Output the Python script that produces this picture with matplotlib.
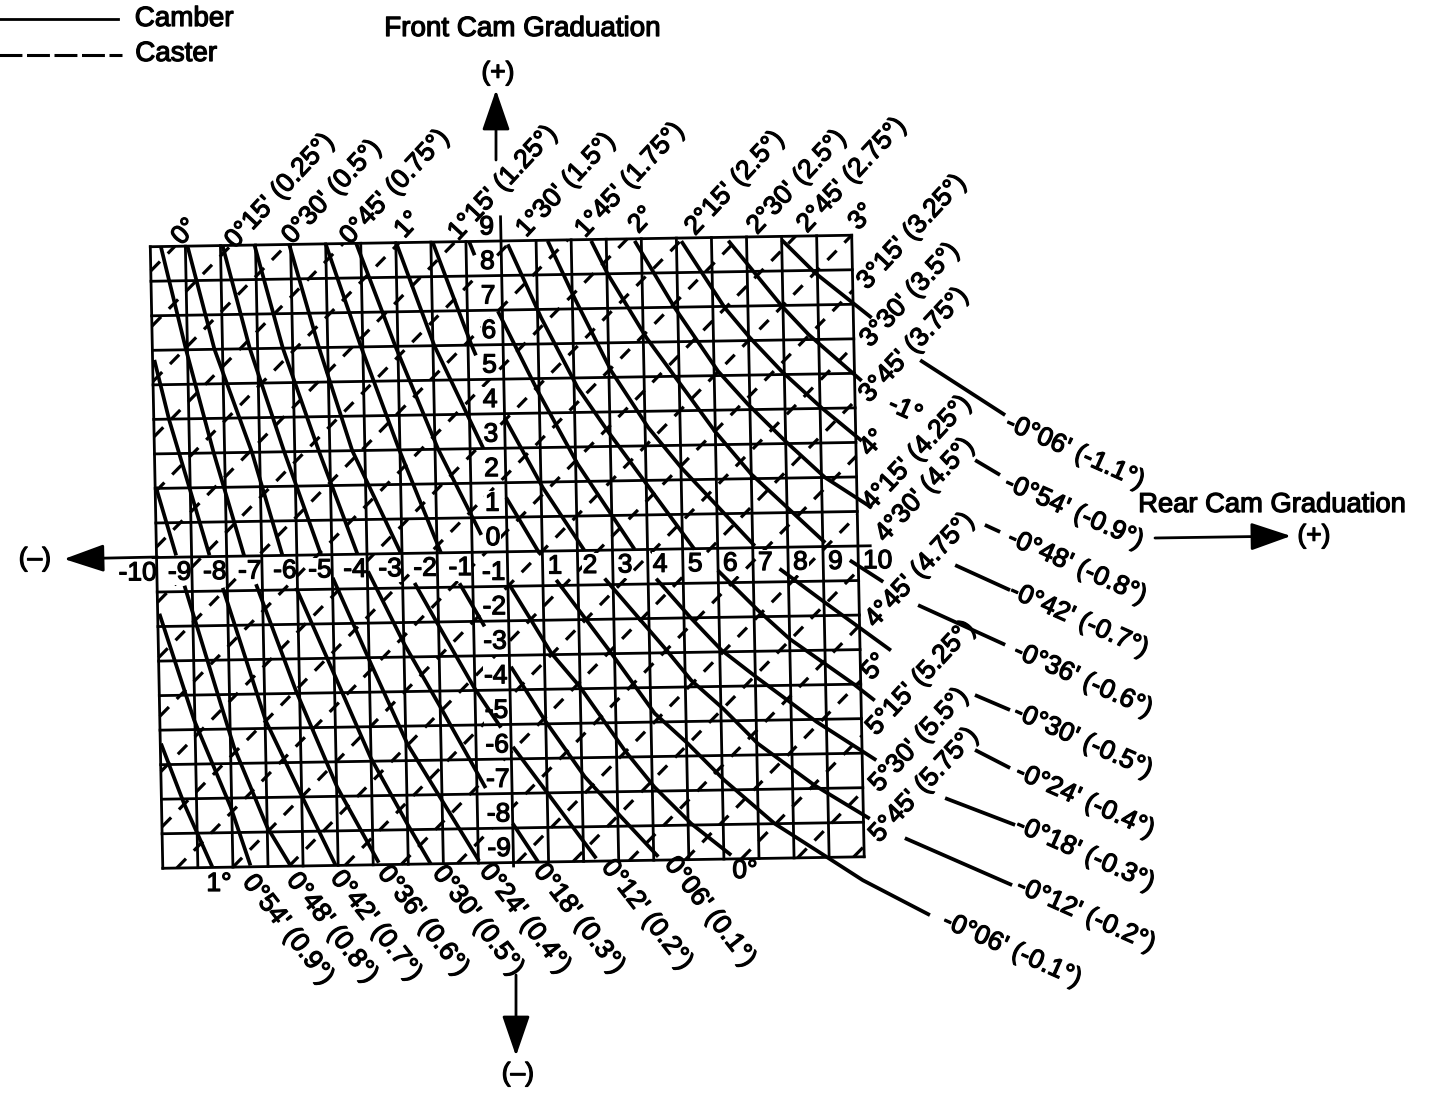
import matplotlib
matplotlib.use("Agg")
import matplotlib.pyplot as plt
import matplotlib.patheffects as pe
from matplotlib.transforms import Affine2D

plt.rcParams["font.family"] = ["Liberation Sans", "DejaVu Sans"]

# Cam graduations on the two axes
rear_cam = list(range(-10, 11))
front_cam = list(range(-9, 10))

# Caster lines: rear minus front cam value along each dashed line
caster_offsets = [-18.3, -16.7, -15.1, -13.5, -11.9, -10.3, -8.7, -7.1, -5.4, -3.8, -2.2, -0.6,
                  1.0, 2.6, 4.2, 5.8, 7.4, 9.1, 10.7, 12.3, 13.9, 15.5, 17.1, 18.7]

# Camber lines: (rear, front) points, broken where the number rows cut them
camber_p100 = [[(-9.98, -5.39), (-9.36, -7.13), (-8.59, -8.98)]]
camber_p090 = [[(-9.95, -1.63), (-9.02, -4.73), (-8.03, -7.26), (-7.5, -8.96)]]
camber_p080 = [[(-9.98, 2.05), (-9.44, 0.05)],
               [(-9.22, -0.83), (-7.9, -5.53), (-7.0, -7.86), (-6.36, -8.98)]]
camber_p070 = [[(-9.95, 5.72), (-9.56, 3.97), (-9.03, 2.03), (-8.49, 0.04)],
               [(-8.13, -0.91), (-6.98, -4.78), (-5.98, -7.01), (-5.07, -9.0)]]
camber_p060 = [[(-9.7, 9.0), (-9.04, 6.0), (-8.31, 3.0), (-7.5, 0.0)],
               [(-7.18, -0.82), (-6.1, -3.93), (-4.98, -6.74), (-3.84, -8.94)]]
camber_p050 = [[(-8.94, 9.0), (-8.23, 6.0), (-7.22, 3.0), (-6.41, 0.0)],
               [(-6.04, -0.94), (-5.0, -3.47), (-4.01, -5.9), (-3.0, -7.84), (-2.36, -9.0)]]
camber_p040 = [[(-7.94, 9.0), (-7.22, 6.0), (-6.3, 3.0), (-5.31, 0.0)],
               [(-4.99, -0.67), (-3.94, -3.2), (-2.95, -5.53), (-1.99, -7.19), (-0.98, -8.94)]]
camber_p030 = [[(-7.03, 9.0), (-6.28, 6.0), (-5.31, 3.0), (-4.27, 0.0)],
               [(-3.98, -0.5), (-2.98, -2.64), (-1.98, -4.49), (-0.75, -6.83)],
               [(0.0, -7.87), (0.7, -8.99)]]
camber_p020 = [[(-6.04, 9.0), (-5.25, 6.0), (-4.36, 3.0), (-3.03, 0.0)],
               [(-2.66, -0.86), (-2.07, -1.97), (-1.02, -3.92), (-0.28, -5.09)],
               [(0.05, -5.65), (1.02, -7.02), (2.36, -8.92)]]
camber_p010 = [[(-5.0, 9.0), (-4.05, 6.0), (-3.02, 3.0), (-1.89, 0.0)],
               [(-1.38, -0.89), (-0.69, -2.15)],
               [(0.04, -3.33), (0.97, -4.89), (2.08, -6.55), (3.05, -7.68), (4.13, -8.9)]]
camber_zero = [[(-4.13, 9.0), (-3.07, 6.0), (-1.91, 3.0), (-0.73, 0.5)],
               [(0.05, -0.97), (1.2, -2.96), (1.99, -3.94), (3.23, -5.8), (4.06, -6.88),
                (5.09, -7.96), (6.21, -8.89)]]
camber_m01 = [[(-2.99, 9.0), (-1.96, 6.0), (-0.62, 3.0)],
              [(0.0, 1.57), (0.91, -0.05)],
              [(1.38, -0.84), (2.91, -2.99), (4.11, -4.75), (5.04, -5.64), (6.06, -6.72),
               (7.47, -8.0), (8.64, -8.79), (9.95, -9.68), (11.84, -10.72)]]
camber_m02 = [[(-1.95, 9.0), (-0.9, 6.0), (-0.78, 5.7)],
              [(0.0, 3.88), (1.05, 1.84), (2.2, 0.0)],
              [(2.76, -0.82), (4.48, -2.92), (5.17, -3.81), (6.06, -4.64), (7.03, -5.67),
               (8.63, -6.91), (10.18, -7.9)],
              [(11.17, -8.48), (14.2, -9.89)]]
camber_m03 = [[(-0.91, 9.0), (-0.76, 8.6)],
              [(-0.13, 6.97), (0.96, 4.64), (2.06, 2.5), (3.63, 0.01)],
              [(4.23, -0.85), (5.21, -2.02), (6.05, -2.95), (7.02, -3.74), (8.72, -5.07),
               (10.4, -6.21)],
              [(12.34, -7.34), (14.32, -8.15)]]
camber_m04 = [[(0.19, 8.9), (1.1, 6.76), (2.1, 4.72), (2.93, 3.45), (3.95, 1.98), (5.34, -0.02)],
              [(5.99, -0.64), (7.11, -1.81), (7.99, -2.65), (9.78, -3.98), (10.39, -4.48)],
              [(13.22, -5.96), (14.21, -6.5)]]
camber_m05 = [[(1.33, 8.98), (2.06, 7.32), (3.07, 5.18), (4.09, 3.53), (5.01, 2.35), (7.06, 0.05)],
              [(7.75, -0.62), (9.0, -1.6), (10.88, -3.04)],
              [(13.25, -4.37), (14.24, -4.82)]]
camber_m06 = [[(2.57, 8.96), (3.03, 7.98), (4.09, 6.13), (4.97, 4.86), (5.98, 3.4), (7.0, 2.13),
               (9.07, 0.11)],
              [(9.76, -0.41), (10.7, -1.05)],
              [(11.68, -1.74), (14.14, -2.93)]]
camber_m07 = [[(3.81, 8.94), (4.91, 6.99), (6.11, 5.13), (6.95, 4.15), (7.98, 3.08), (9.1, 2.0),
               (10.42, 1.1)],
              [(12.76, -0.6), (14.31, -1.35)]]
camber_m08 = [[(5.14, 8.91), (6.34, 6.96), (7.04, 6.08), (7.92, 5.1), (9.04, 4.02), (10.17, 3.04)],
              [(13.63, 0.55), (14.06, 0.34)]]
camber_m09 = [[(6.48, 8.9), (7.96, 6.99), (8.71, 6.15), (10.2, 4.78)],
              [(13.39, 2.43), (14.09, 1.99)]]
camber_m11 = [[(8.0, 8.9), (8.93, 7.93), (10.52, 6.6)],
              [(11.88, 5.35), (14.27, 3.72)]]

camber_lines = [camber_p100, camber_p090, camber_p080, camber_p070, camber_p060, camber_p050,
                camber_p040, camber_p030, camber_p020, camber_p010, camber_zero, camber_m01,
                camber_m02, camber_m03, camber_m04, camber_m05, camber_m06, camber_m07,
                camber_m08, camber_m09, camber_m11]

caster_labels = ["0°", "0°15' (0.25°)", "0°30' (0.5°)", "0°45' (0.75°)", "1°", "1°15' (1.25°)",
                 "1°30' (1.5°)", "1°45' (1.75°)", "2°", "2°15' (2.5°)", "2°30' (2.5°)",
                 "2°45' (2.75°)", "3°", "3°15' (3.25°)", "3°30' (3.5°)", "3°45' (3.75°)", "4°",
                 "4°15' (4.25°)", "4°30' (4.5°)", "4°45' (4.75°)", "5°", "5°15' (5.25°)",
                 "5°30' (5.5°)", "5°45' (5.75°)"]
bottom_labels = ["1°", "0°54' (0.9°)", "0°48' (0.8°)", "0°42' (0.7°)", "0°36' (0.6°)",
                 "0°30' (0.5°)", "0°24' (0.4°)", "0°18' (0.3°)", "0°12' (0.2°)", "0°06' (0.1°)",
                 "0°"]
right_labels = ["-0°06' (-1.1°)", "-1°", "-0°54' (-0.9°)", "-0°48' (-0.8°)", "-0°42' (-0.7°)",
                "-0°36' (-0.6°)", "-0°30' (-0.5°)", "-0°24' (-0.4°)", "-0°18' (-0.3°)",
                "-0°12' (-0.2°)", "-0°06' (-0.1°)"]

# where those labels sit on the page, in pixels
caster_label_xy = [(185, 232), (280, 191), (332, 192), (395, 187), (408, 225), (503, 183),
                   (566, 185), (630, 180), (642, 220), (735, 183), (797, 182), (852, 175),
                   (862, 217), (912, 232), (910, 295), (914, 345), (873, 443), (917, 453),
                   (925, 490), (920, 570), (875, 667), (921, 678), (919, 740), (924, 785)]
bottom_label_xy = [(219, 884), (288, 930), (332, 928), (376, 926), (423, 921), (478, 921),
                   (525, 919), (579, 919), (647, 915), (710, 912), (745, 871)]
right_label_xy = [(1075, 452), (905, 410), (1074, 512), (1077, 567), (1079, 620), (1083, 680),
                  (1083, 741), (1085, 801), (1085, 854), (1086, 915), (1012, 950)]

fig = plt.figure(figsize=(14.4, 10.96), dpi=100)
ax = fig.add_axes([0, 0, 1, 1])
ax.set_xlim(0, 1440)
ax.set_ylim(1096, 0)
ax.axis("off")

# The printed grid is slightly skewed on the page
cam = Affine2D.from_values(35.07, -0.575, -0.694, -34.53, 507.25, 551.75) + ax.transData

heavy = [pe.withStroke(linewidth=0.9, foreground="black")]
FS = 19


def label(x, y, s, rot=0, size=FS, **kw):
    return ax.text(x, y, s, rotation=rot, rotation_mode="anchor", ha="center", va="center",
                   fontsize=size, color="black", path_effects=heavy, **kw)


# Grid
for x in rear_cam:
    if x == 0:
        continue
    ax.plot([x, x], [-9, 9], color="black", lw=2.0, transform=cam, zorder=3)
ax.plot([0, 0], [-9.1, 9.7], color="black", lw=2.0, transform=cam, zorder=3)
for y in front_cam:
    if y == 0:
        ax.plot([-10.1, 10.35], [0, 0], color="black", lw=2.0, transform=cam, zorder=3)
    else:
        ax.plot([-10, 10], [y, y], color="black", lw=2.0, transform=cam, zorder=3)

# Caster (dashed)
for c in caster_offsets:
    x0 = max(-10, -9 + c)
    x1 = min(10, 9 + c)
    ax.plot([x0, x1], [x0 - c, x1 - c], color="black", lw=2.3, dashes=(4.1, 3.5),
            dash_capstyle="butt", transform=cam, zorder=1)

# Camber (solid)
for line in camber_lines:
    for seg in line:
        xs = [p[0] for p in seg]
        ys = [p[1] for p in seg]
        ax.plot(xs, ys, color="black", lw=2.7, solid_capstyle="butt", solid_joinstyle="round",
                transform=cam, zorder=4)

# Numbers along the axes
for n in rear_cam:
    if n == 0:
        continue
    sign = 1 if n > 0 else -1
    shift = 0.55 if abs(n) == 10 else 0.35
    ax.text(n + sign * shift, -0.45, str(n), ha="center", va="center", fontsize=FS,
            path_effects=heavy, transform=cam, zorder=2,
            bbox=dict(facecolor="white", edgecolor="none", pad=0.5))
for n in front_cam:
    ax.text(-0.4, n + 0.4, str(n), ha="center", va="center", fontsize=FS,
            path_effects=heavy, transform=cam, zorder=2,
            bbox=dict(facecolor="white", edgecolor="none", pad=0.5))

# Degree labels
for s, (x, y) in zip(caster_labels, caster_label_xy):
    label(x, y, s, rot=47)
for s, (x, y) in zip(bottom_labels, bottom_label_xy):
    label(x, y, s, rot=-52 if len(s) > 3 else 0)
for s, (x, y) in zip(right_labels, right_label_xy):
    label(x, y, s, rot=-24)

# Arrows
head = dict(arrowstyle="-|>,head_length=1.25,head_width=0.43", mutation_scale=20, color="black",
            lw=2.0, shrinkA=0, shrinkB=0)
ax.annotate("", xy=(496, 90), xytext=(496, 160), arrowprops=head)
ax.annotate("", xy=(516, 1056), xytext=(516, 975), arrowprops=head)
ax.annotate("", xy=(64, 559), xytext=(158, 557), arrowprops=head)
ax.annotate("", xy=(1291, 536), xytext=(1155, 538), arrowprops=head)

# Titles and signs
label(522, 29, "Front Cam Graduation", size=20)
label(498, 73, "(+)")
label(1272, 505, "Rear Cam Graduation", size=19.7)
label(1314, 536, "(+)")
label(35, 559, "(–)")
label(518, 1074, "(–)")

# Legend
ax.plot([-2, 118], [19, 19], color="black", lw=2.0)
ax.plot([-2, 122], [55, 55], color="black", lw=2.2, dashes=(7.5, 1.5), dash_capstyle="butt")
label(184, 19, "Camber", size=20)
label(176, 54, "Caster", size=20)

fig.savefig("out.png", dpi=100)
